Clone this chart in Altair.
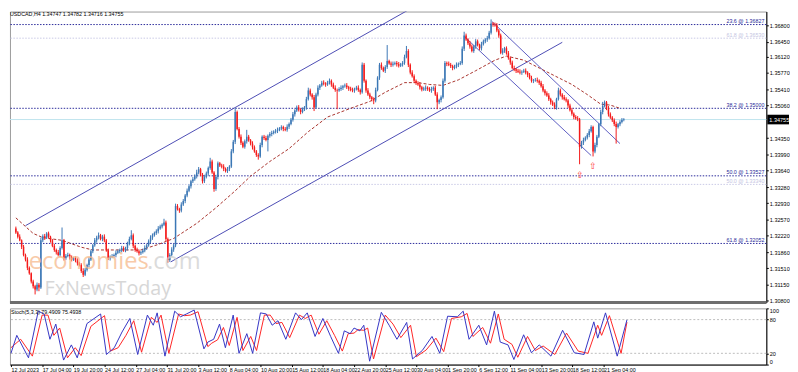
import altair as alt
import numpy as np
import pandas as pd

# ---------------- data (prices in units of 0.0001) ----------------
first_open_pts = 13238
close_pts = [
    13229, 13220, 13212, 13198, 13180, 13170, 13152, 13140, 13122, 13112,
    13105, 13115, 13109, 13212, 13221, 13218, 13227, 13220, 13212, 13200,
    13191, 13186, 13180, 13195, 13212, 13173, 13178, 13180, 13175, 13170,
    13173, 13168, 13162, 13158, 13145, 13137, 13148, 13158, 13170, 13188,
    13201, 13212, 13218, 13223, 13215, 13220, 13212, 13190, 13173, 13176,
    13178, 13180, 13185, 13188, 13191, 13195, 13190, 13195, 13205, 13215,
    13223, 13200, 13191, 13188, 13184, 13186, 13190, 13196, 13201, 13210,
    13218, 13223, 13228, 13232, 13238, 13242, 13246, 13251, 13215, 13169,
    13180, 13192, 13201, 13287, 13280, 13277, 13290, 13298, 13310, 13320,
    13330, 13341, 13345, 13352, 13360, 13367, 13355, 13341, 13350, 13358,
    13370, 13384, 13360, 13324, 13350, 13380, 13375, 13373, 13368, 13363,
    13368, 13373, 13406, 13427, 13492, 13455, 13438, 13425, 13416, 13428,
    13438, 13430, 13423, 13415, 13406, 13398, 13395, 13420, 13438, 13435,
    13431, 13440, 13444, 13446, 13449, 13451, 13453, 13456, 13459, 13455,
    13453, 13460, 13466, 13475, 13487, 13495, 13502, 13497, 13492, 13498,
    13502, 13520, 13539, 13530, 13524, 13502, 13530, 13545, 13550, 13556,
    13554, 13552, 13556, 13560, 13552, 13545, 13540, 13539, 13542, 13545,
    13548, 13550, 13546, 13543, 13540, 13539, 13542, 13545, 13540, 13535,
    13595, 13560, 13539, 13530, 13524, 13520, 13517, 13540, 13567, 13595,
    13588, 13582, 13590, 13603, 13598, 13595, 13597, 13599, 13596, 13593,
    13596, 13599, 13612, 13625, 13595, 13578, 13570, 13560, 13555, 13552,
    13546, 13541, 13543, 13545, 13542, 13539, 13542, 13545, 13530, 13513,
    13518, 13524, 13560, 13599, 13597, 13595, 13592, 13588, 13591, 13595,
    13597, 13599, 13630, 13659, 13650, 13642, 13635, 13625, 13635, 13646,
    13638, 13631, 13640, 13646, 13650, 13653, 13665, 13685, 13683, 13681,
    13670, 13659, 13621, 13626, 13631, 13620, 13610, 13600, 13588, 13585,
    13582, 13580, 13578, 13580, 13582, 13578, 13573, 13566, 13560, 13561,
    13562, 13560, 13556, 13548, 13539, 13533, 13528, 13520, 13513, 13508,
    13502, 13520, 13539, 13530, 13524, 13520, 13517, 13506, 13496, 13488,
    13481, 13478, 13476, 13416, 13425, 13431, 13436, 13442, 13450, 13459,
    13406, 13420, 13438, 13465, 13492, 13505, 13513, 13500, 13487, 13480,
    13474, 13466, 13459, 13465, 13470, 13474.7, 13475.5,
]
upper_wick_pts = [
    4, 3, 5, 2, 4, 3, 5, 3, 2, 4,   3, 5, 4, 6, 4, 5, 3, 4, 2, 3,
    4, 3, 5, 4, 28, 3, 4, 5, 3, 4,  3, 4, 5, 3, 4, 6, 4, 3, 5, 4,
    3, 5, 4, 6, 3, 4, 5, 3, 4, 3,   4, 3, 5, 4, 3, 5, 4, 3, 4, 5,
    11, 4, 3, 5, 4, 3, 4, 5, 3, 4,  5, 4, 3, 4, 5, 4, 3, 8, 4, 3,
    4, 5, 3, 5, 4, 3, 5, 4, 3, 5,   4, 3, 5, 4, 6, 5, 3, 4, 5, 4,
    3, 8, 4, 3, 5, 4, 3, 4, 5, 3,   4, 3, 5, 4, 8, 3, 4, 5, 3, 4,
    15, 4, 3, 5, 4, 3, 4, 5, 3, 4,  5, 3, 4, 5, 3, 4, 5, 3, 4, 3,
    4, 5, 3, 4, 5, 3, 4, 5, 3, 4,   3, 5, 6, 4, 3, 5, 4, 5, 3, 4,
    5, 3, 4, 5, 3, 4, 5, 3, 4, 5,   3, 4, 5, 3, 4, 5, 3, 4, 5, 3,
    5, 4, 3, 5, 4, 3, 4, 5, 3, 4,   5, 3, 4, 35, 3, 4, 5, 3, 4, 5,
    3, 4, 5, 11, 4, 3, 5, 4, 3, 4,  5, 3, 4, 5, 3, 4, 5, 3, 4, 5,
    3, 4, 5, 4, 3, 5, 4, 3, 4, 5,   3, 4, 5, 8, 4, 3, 5, 4, 3, 5,
    4, 3, 5, 4, 3, 5, 4, 9, 3, 4,   5, 3, 4, 5, 3, 4, 5, 3, 4, 5,
    3, 4, 5, 3, 4, 5, 3, 4, 5, 3,   4, 5, 3, 4, 5, 3, 4, 5, 3, 4,
    5, 3, 6, 4, 3, 5, 4, 3, 4, 5,   3, 4, 5, 3, 4, 5, 3, 4, 5, 4,
    3, 5, 4, 3, 5, 9, 4, 3, 5, 4,   3, 4, 5, 3, 4, 4, 3,
]
lower_wick_pts = [
    3, 4, 2, 5, 3, 4, 5, 3, 4, 5,   11, 4, 8, 3, 4, 5, 3, 4, 5, 3,
    4, 5, 3, 4, 3, 5, 4, 3, 5, 4,   3, 4, 5, 3, 4, 5, 3, 4, 5, 3,
    4, 3, 5, 4, 3, 5, 4, 3, 4, 5,   3, 4, 5, 3, 4, 5, 3, 4, 5, 4,
    3, 5, 4, 3, 5, 4, 3, 4, 5, 3,   4, 5, 3, 4, 5, 3, 4, 3, 5, 6,
    4, 3, 5, 4, 3, 5, 4, 3, 5, 4,   3, 5, 4, 3, 5, 4, 3, 5, 4, 3,
    5, 4, 3, 6, 4, 5, 3, 4, 5, 3,   4, 5, 3, 4, 5, 3, 4, 5, 3, 4,
    5, 3, 4, 5, 3, 4, 7, 3, 5, 4,   3, 25, 4, 5, 3, 4, 5, 3, 4, 5,
    3, 4, 5, 3, 4, 5, 3, 4, 5, 3,   4, 5, 3, 4, 5, 8, 3, 4, 5, 3,
    4, 5, 3, 4, 5, 3, 4, 41, 3, 4,  5, 3, 4, 5, 3, 4, 5, 3, 4, 5,
    3, 4, 5, 3, 4, 5, 8, 4, 3, 5,   4, 3, 5, 4, 3, 5, 4, 3, 5, 4,
    3, 5, 4, 3, 5, 4, 3, 5, 4, 3,   5, 4, 3, 5, 4, 3, 5, 4, 3, 15,
    4, 5, 3, 4, 5, 3, 4, 5, 3, 4,   5, 3, 4, 5, 3, 4, 5, 3, 4, 5,
    3, 4, 5, 3, 4, 5, 3, 4, 5, 3,   4, 5, 3, 4, 5, 3, 4, 5, 3, 4,
    5, 3, 4, 5, 3, 4, 5, 3, 4, 5,   3, 4, 5, 3, 4, 5, 3, 4, 5, 3,
    4, 5, 3, 4, 5, 3, 4, 5, 3, 4,   5, 3, 4, 38, 4, 5, 3, 4, 5, 3,
    11, 4, 5, 3, 4, 5, 3, 4, 5, 3,  4, 5, 36, 3, 4, 3, 3,
]

# moving average (dashed) read at selected bars
ma_idx = [0, 9, 14, 24, 34, 40, 49, 57, 65, 74, 82, 94, 104, 114, 122, 132, 142, 152, 162, 174,
          184, 192, 202, 209, 215, 222, 230, 239, 249, 255, 264, 272, 280, 289, 297, 304, 309, 314]
ma_pts = [13261, 13227, 13218, 13212, 13197, 13191, 13191, 13191, 13191, 13203, 13216, 13249, 13283,
          13320, 13352, 13384, 13412, 13449, 13481, 13500, 13515, 13535, 13556, 13556, 13552, 13550,
          13562, 13582, 13605, 13614, 13605, 13588, 13571, 13552, 13530, 13509, 13507, 13500]

# trend / channel lines (start bar, start price, end bar, end price)
line_names = ["up_top", "up_bottom", "down_top", "down_bottom"]
line_i0 = [5, 80.5, 247.5, 233]
line_p0 = [1.3244, 1.3165, 1.3689, 1.3657]
line_i1 = [208, 284, 314, 299]
line_p1 = [1.3724, 1.3644, 1.3423, 1.3397]

# Fibonacci levels
fib_dark = [1.36827, 1.35000, 1.33527, 1.32052]
fib_dark_lbl = ["23.6 @ 1.36827", "38.2 @ 1.35000", "50.0 @ 1.33527", "61.8 @ 1.32052"]
fib_light = [1.36530, 1.33340]
fib_light_lbl = ["61.8 @ 1.36530", "50.0 @ 1.33340"]

current_price = 1.34755
arrow_idx = [293, 300]
arrow_price = [1.3363, 1.3382]

price_ticks = [1.36800, 1.36450, 1.36120, 1.35770, 1.35410, 1.35060, 1.34350, 1.33990, 1.33640,
               1.33280, 1.32930, 1.32570, 1.32220, 1.31860, 1.31510, 1.31150, 1.30800]
date_labels = ["12 Jul 2023", "17 Jul 04:00", "19 Jul 20:00", "24 Jul 12:00", "27 Jul 04:00",
               "31 Jul 20:00", "3 Aug 12:00", "8 Aug 04:00", "10 Aug 20:00", "15 Aug 12:00",
               "18 Aug 04:00", "22 Aug 20:00", "25 Aug 12:00", "30 Aug 04:00", "1 Sep 20:00",
               "6 Sep 12:00", "11 Sep 04:00", "13 Sep 20:00", "18 Sep 12:00", "21 Sep 04:00"]

# stochastic (5,3,3): %K and %D read at turning points
k_idx = [0, 3, 9, 14, 17, 20, 23, 27, 31, 34, 39, 46, 49, 53, 57, 61, 65, 70, 73, 75,
         79, 84, 87, 90, 94, 99, 101, 104, 107, 110, 114, 117, 121, 124, 128, 131, 134, 137, 141, 146,
         149, 152, 156, 160, 164, 168, 171, 174, 176, 179, 181, 184, 190, 194, 198, 203, 206, 211, 216, 220,
         224, 229, 232, 235, 240, 244, 248, 251, 255, 258, 263, 267, 271, 277, 283, 289, 294, 299, 301, 305,
         311, 316]
k_val = [20, 52, 12, 95, 90, 45, 72, 8, 35, 12, 73, 90, 18, 30, 58, 82, 18, 88, 70, 92,
         15, 95, 85, 90, 97, 28, 40, 45, 72, 30, 88, 20, 55, 20, 92, 90, 70, 78, 45, 92,
         80, 92, 50, 82, 50, 20, 60, 55, 65, 60, 70, 6, 93, 70, 45, 75, 10, 25, 50, 20,
         86, 85, 95, 45, 70, 35, 95, 40, 35, 9, 53, 21, 35, 15, 61, 21, 18, 76, 47, 92,
         15, 79.49]
d_idx = [0, 5, 11, 16, 19, 22, 25, 29, 33, 36, 41, 48, 51, 55, 59, 63, 67, 72, 75, 77,
         81, 86, 89, 92, 96, 101, 103, 106, 109, 112, 116, 119, 123, 126, 130, 133, 136, 139, 143, 148,
         151, 154, 158, 162, 166, 170, 173, 176, 178, 181, 183, 186, 192, 196, 200, 205, 208, 213, 218, 222,
         226, 231, 234, 237, 242, 246, 250, 253, 257, 260, 265, 269, 273, 279, 285, 291, 296, 301, 303, 307,
         313, 316]
d_val = [30, 45, 15, 88, 88, 52, 65, 12, 30, 16, 68, 87, 24, 30, 52, 78, 22, 84, 75, 88,
         20, 90, 87, 88, 94, 32, 38, 44, 66, 34, 84, 25, 50, 25, 88, 88, 73, 75, 48, 88,
         82, 88, 54, 78, 52, 24, 55, 56, 62, 61, 65, 10, 88, 72, 48, 70, 14, 26, 47, 23,
         82, 85, 91, 50, 66, 38, 90, 45, 36, 13, 50, 25, 33, 18, 56, 24, 20, 70, 52, 87,
         20, 75.49]
stoch_levels = [20, 80]

# ---------------- tables ----------------
closes = np.array(close_pts, dtype=float) / 1e4
opens = np.concatenate([[first_open_pts / 1e4], closes[:-1]])
highs = np.maximum(opens, closes) + np.array(upper_wick_pts) / 1e4
lows = np.minimum(opens, closes) - np.array(lower_wick_pts) / 1e4
candles = pd.DataFrame({
    "i": np.arange(len(closes)), "open": opens, "close": closes,
    "high": highs, "low": lows,
    "dir": np.where(closes >= opens, "up", "down"),
})
ma_df = pd.DataFrame({"i": ma_idx, "p": np.array(ma_pts) / 1e4})
lines_df = pd.DataFrame({
    "name": line_names * 2,
    "i": line_i0 + line_i1,
    "p": line_p0 + line_p1,
})
fib_d = pd.DataFrame({"p": fib_dark, "lbl": fib_dark_lbl})
fib_l = pd.DataFrame({"p": fib_light, "lbl": fib_light_lbl})
cur_df = pd.DataFrame({"p": [current_price], "lbl": [f"{current_price:.5f}"]})
arrows_df = pd.DataFrame({"i": arrow_idx, "p": arrow_price})
k_df = pd.DataFrame({"i": k_idx, "v": k_val})
d_df = pd.DataFrame({"i": d_idx, "v": d_val})
lev_df = pd.DataFrame({"v": stoch_levels})

# ---------------- chart ----------------
W, HM, HS = 767, 295, 57
FONT = "Liberation Sans"
xs = alt.Scale(domain=[-0.5, 387.5], nice=False, zero=False)
ys = alt.Scale(domain=[1.30765, 1.37111], nice=False, zero=False)
yax = alt.Axis(orient="right", values=price_ticks, labelExpr="format(datum.value, '.5f')",
               labelFontSize=5.6, labelFont=FONT, labelColor="black", tickSize=2, labelPadding=1,
               domainColor="black", tickColor="black", grid=False, title=None, labelOverlap=False)


def X(f):
    return alt.X(f"{f}:Q", scale=xs, axis=None)


def Y(f):
    return alt.Y(f"{f}:Q", scale=ys, axis=yax)


UP, DOWN = "#3b77b5", "#f41a1a"
base = alt.Chart(candles)
fib_dark_rules = alt.Chart(fib_d).mark_rule(color="#2a2a9a", strokeDash=[1.5, 1.5], strokeWidth=1).encode(y=Y("p"))
fib_light_rules = alt.Chart(fib_l).mark_rule(color="#c9c9e6", strokeDash=[1.5, 1.5], strokeWidth=1).encode(y=Y("p"))
cur_rule = alt.Chart(cur_df).mark_rule(color="#bfe4ee", strokeWidth=1).encode(y=Y("p"))

is_up = alt.datum.dir == "up"
wicks = base.mark_rule(strokeWidth=1).encode(
    x=X("i"), y=Y("low"), y2="high",
    stroke=alt.condition(is_up, alt.value(UP), alt.value(DOWN)))
bodies = base.mark_bar(size=1.5).encode(
    x=X("i"), y=Y("open"), y2="close",
    fill=alt.condition(is_up, alt.value(UP), alt.value(DOWN)))

ma_line = alt.Chart(ma_df).mark_line(color="#a8322c", strokeDash=[3, 2], strokeWidth=1).encode(x=X("i"), y=Y("p"))
ch_up = alt.Chart(lines_df).transform_filter(alt.FieldOneOfPredicate(field="name", oneOf=line_names[:2])).mark_line(
    strokeWidth=1, clip=True, color="#4b4bb4").encode(x=X("i"), y=Y("p"), detail="name:N")
ch_dn = alt.Chart(lines_df).transform_filter(alt.FieldOneOfPredicate(field="name", oneOf=line_names[2:])).mark_line(
    strokeWidth=1, clip=True, color="#5c5cc2").encode(x=X("i"), y=Y("p"), detail="name:N")
arrows = alt.Chart(arrows_df).mark_text(text="⇧", color="#ff3a3a", fontSize=9, baseline="top").encode(x=X("i"), y=Y("p"))

fib_dark_txt = alt.Chart(fib_d).mark_text(align="right", baseline="bottom", dy=-0.5, fontSize=5.4, font=FONT,
                                           color="#2a2a9a").encode(x=alt.value(W - 2), y=Y("p"), text="lbl:N")
fib_light_txt = alt.Chart(fib_l).mark_text(align="right", baseline="bottom", dy=-0.5, fontSize=5.4, font=FONT,
                                            color="#c4c4e2").encode(x=alt.value(W - 2), y=Y("p"), text="lbl:N")

cur_box = alt.Chart(cur_df).transform_calculate(top="datum.p + 0.00105", bot="datum.p - 0.00105").mark_rect(
    color="black").encode(x=alt.value(W + 1), x2=alt.value(W + 23), y=Y("top"), y2="bot:Q")
cur_txt = alt.Chart(cur_df).mark_text(align="left", color="white", fontSize=5.6, font=FONT).encode(
    x=alt.value(W + 3), y=Y("p"), text="lbl:N")

wm1 = alt.Chart(cur_df).mark_text(text="economies", align="left", baseline="alphabetic", fontSize=24,
                                  font="Open Sans", color="#f6b98c", opacity=0.75).encode(
    x=alt.value(19), y=alt.value(261))
wm2 = alt.Chart(cur_df).mark_text(text=".com", align="left", baseline="alphabetic", fontSize=24,
                                  font="Open Sans", color="#cfcfcf", opacity=0.75).encode(
    x=alt.value(139), y=alt.value(261))
wm3 = alt.Chart(cur_df).mark_text(text="FxNewsToday", align="left", baseline="alphabetic", fontSize=20,
                                  font="Open Sans", color="#cacaca", opacity=0.75).encode(
    x=alt.value(35), y=alt.value(287))
title = alt.Chart(cur_df).mark_text(text="USDCAD,H4  1.34747 1.34782 1.34716 1.34755", align="left",
                                    baseline="top", fontSize=5.4, font=FONT, color="black").encode(
    x=alt.value(0), y=alt.value(1))
sep = alt.Chart(cur_df).mark_rule(color="#6e6e6e", strokeWidth=3).encode(
    x=alt.value(0), x2=alt.value(W), y=alt.value(HM))

main = alt.layer(
    fib_light_rules, fib_dark_rules, cur_rule,
    ch_up, ch_dn, ma_line, wicks, bodies, arrows, wm1, wm2, wm3,
    fib_light_txt, fib_dark_txt, cur_box, cur_txt, title, sep,
).properties(width=W, height=HM)

sx = alt.Scale(domain=[-0.5, 387.5], nice=False, zero=False)
xax = alt.Axis(values=list(range(0, 305, 16)), labelExpr="[" + ",".join(f"'{d}'" for d in date_labels) +
               "][round(datum.value / 16)]", labelAlign="left", labelFontSize=5.4, labelFont=FONT,
               labelColor="black", tickSize=2, labelPadding=1, domainColor="black", tickColor="black",
               grid=False, title=None, labelOverlap=False, labelFlush=False)
sy = alt.Scale(domain=[0, 100], nice=False, zero=False)
syax = alt.Axis(orient="right", values=[0, 20, 80, 100], labelFontSize=5.6, labelFont=FONT, labelColor="black",
                tickSize=2, labelPadding=1, domainColor="black", tickColor="black", grid=False, title=None,
                labelFlush=True, labelOverlap=False)

lev = alt.Chart(lev_df).mark_rule(color="#bdbdbd", strokeDash=[2, 2]).encode(y=alt.Y("v:Q", scale=sy, axis=syax))
d_line = alt.Chart(d_df).mark_line(color="#ff2424", strokeWidth=1).encode(
    x=alt.X("i:Q", scale=sx, axis=xax), y=alt.Y("v:Q", scale=sy, axis=syax))
k_line = alt.Chart(k_df).mark_line(color="#3434c4", strokeWidth=1).encode(
    x=alt.X("i:Q", scale=sx, axis=xax), y=alt.Y("v:Q", scale=sy, axis=syax))
s_title = alt.Chart(cur_df).mark_text(text="Stoch(5,3,3) 79.4909 75.4938", align="left", baseline="top",
                                      fontSize=5.4, font=FONT, color="black").encode(x=alt.value(1), y=alt.value(2))
stoch = alt.layer(lev, d_line, k_line, s_title).properties(width=W, height=HS)

chart = alt.vconcat(main, stoch, spacing=2).properties(padding=0, background="white").configure_view(
    stroke="#9a9a9a", strokeWidth=1)

chart.save("out.html", embed_options={"renderer": "svg", "actions": False})
